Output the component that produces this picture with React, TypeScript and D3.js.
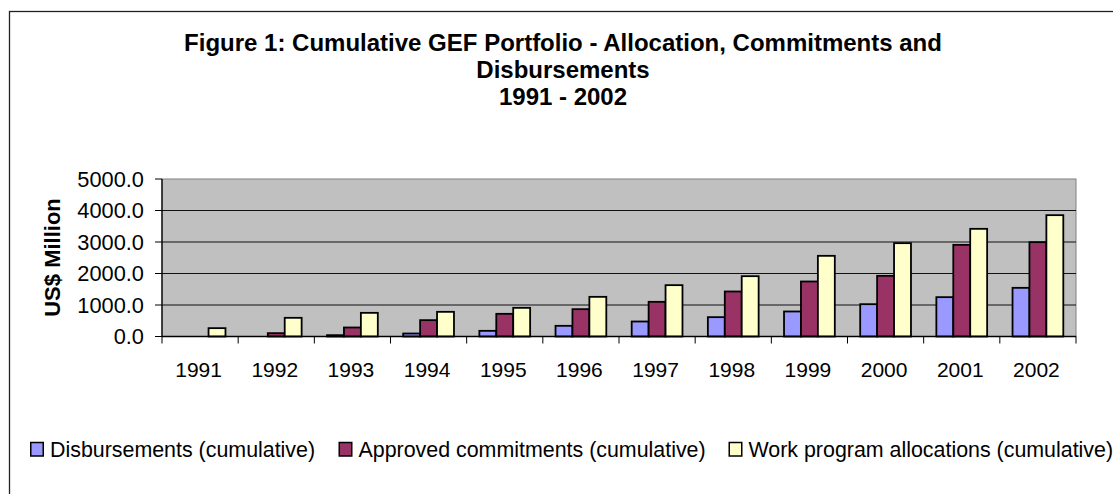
import React from "react";
import * as d3 from "d3";

const years = ["1991","1992","1993","1994","1995","1996","1997","1998","1999","2000","2001","2002"];
const disbursements = [0, 0, 42, 95, 180, 339, 476, 614, 794, 1026, 1249, 1545];
const commitments = [0, 106, 286, 519, 720, 868, 1101, 1429, 1746, 1926, 2910, 2995];
const allocations = [265, 593, 751, 783, 910, 1259, 1630, 1915, 2561, 2963, 3418, 3852];
const yTicks = [0, 1000, 2000, 3000, 4000, 5000];
const seriesNames = [
  "Disbursements (cumulative)",
  "Approved commitments (cumulative)",
  "Work program allocations (cumulative)",
];
const titleLines = [
  "Figure 1: Cumulative GEF Portfolio - Allocation, Commitments and",
  "Disbursements",
  "1991 - 2002",
];
const yAxisTitle = "US$ Million";

const colors = ["#9999FF", "#993366", "#FFFFCC"];
const FONT = "'Liberation Sans', Arial, sans-serif";

export default function App() {
  const W = 1113, H = 494;
  const plot = { left: 162, right: 1076, top: 179, bottom: 336.5 };
  const x = d3.scaleBand<string>().domain(years).range([plot.left, plot.right]).paddingInner(0).paddingOuter(0);
  const y = d3.scaleLinear().domain([0, 5000]).range([plot.bottom, plot.top]);
  const band = x.bandwidth();
  const groupW = band / 1.5;
  const barW = groupW / 3;
  const series = [disbursements, commitments, allocations];

  const legendX = [30, 338.5, 728.5];

  return (
    <svg width={W} height={H} style={{ position: "fixed", left: 0, top: 0, background: "#fff" }} fontFamily={FONT}>
      <rect x={0} y={0} width={W} height={H} fill="#fff" />
      {/* outer chart frame (extends off-canvas) */}
      <rect x={9.5} y={11.5} width={1200} height={600} fill="none" stroke="#222" strokeWidth={1.3} />

      {/* title */}
      {titleLines.map((t, i) => (
        <text key={i} x={563} y={50.5 + i * 27} textAnchor="middle" fontSize={24} fontWeight="bold" fill="#000">{t}</text>
      ))}

      {/* plot area */}
      <rect x={plot.left} y={plot.top} width={plot.right - plot.left} height={plot.bottom - plot.top} fill="#C0C0C0" stroke="#808080" strokeWidth={1} />
      {yTicks.filter(v => v > 0 && v < 5000).map(v => (
        <line key={v} x1={plot.left} x2={plot.right} y1={y(v)} y2={y(v)} stroke="#111" strokeWidth={1} />
      ))}

      {/* bars */}
      {years.map((yr, i) => {
        const x0 = (x(yr) as number) + (band - groupW) / 2;
        return series.map((s, k) => (
          <rect key={yr + k} x={x0 + k * barW} y={y(s[i])} width={barW} height={plot.bottom - y(s[i])}
            fill={colors[k]} stroke="#000" strokeWidth={1.8} />
        ));
      })}

      {/* axes */}
      <line x1={plot.left} x2={plot.left} y1={plot.top} y2={plot.bottom} stroke="#000" strokeWidth={1.3} />
      <line x1={plot.left} x2={plot.right} y1={plot.bottom} y2={plot.bottom} stroke="#000" strokeWidth={1.3} />
      {yTicks.map(v => (
        <g key={v}>
          <line x1={plot.left - 7} x2={plot.left} y1={y(v)} y2={y(v)} stroke="#000" strokeWidth={1} />
          <text x={144} y={y(v)} dy="0.36em" textAnchor="end" fontSize={21.8} fill="#000">{v.toFixed(1)}</text>
        </g>
      ))}
      {years.map((yr) => (
        <line key={"t" + yr} x1={x(yr) as number} x2={x(yr) as number} y1={plot.bottom} y2={plot.bottom + 7} stroke="#000" strokeWidth={1} />
      ))}
      <line x1={plot.right} x2={plot.right} y1={plot.bottom} y2={plot.bottom + 7} stroke="#000" strokeWidth={1} />
      {years.map(yr => (
        <text key={"l" + yr} x={(x(yr) as number) + band / 2 - 1.5} y={377} textAnchor="middle" fontSize={21} fill="#000">{yr}</text>
      ))}

      {/* y axis title */}
      <text transform={`translate(60,257.5) rotate(-90)`} textAnchor="middle" fontSize={22} fontWeight="bold" fill="#000">{yAxisTitle}</text>

      {/* legend */}
      {seriesNames.map((n, k) => (
        <g key={n}>
          <rect x={legendX[k] + 0.75} y={442.5} width={12.5} height={13.5} fill={colors[k]} stroke="#000" strokeWidth={1.5} />
          <text x={legendX[k] + 20} y={456.7} fontSize={21.4} fill="#000">{n}</text>
        </g>
      ))}
    </svg>
  );
}
